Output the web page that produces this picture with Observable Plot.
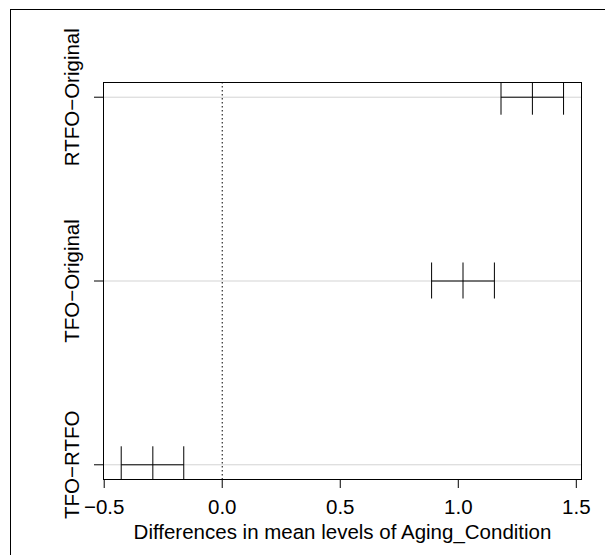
<!DOCTYPE html>
<html>
<head>
<meta charset="utf-8">
<script src="https://cdn.jsdelivr.net/npm/d3@7"></script>
<script src="https://cdn.jsdelivr.net/npm/@observablehq/plot@0.6"></script>
<style>
  html, body { margin: 0; padding: 0; background: #fff; overflow: hidden; width: 605px; height: 555px; }
  #outer { position: absolute; left: 10px; top: 9px; width: 700px; height: 700px; border: 1.5px solid #000; box-sizing: border-box; }
  #chart { position: absolute; left: 0; top: 0; }
</style>
</head>
<body>
<div id="outer"></div>
<div id="chart"></div>
<script>
// TukeyHSD comparisons (bottom to top)
const comparisons = ["TFO\u2212RTFO", "TFO\u2212Original", "RTFO\u2212Original"];
const diffs = [-0.294, 1.020, 1.314];
const lwr = [-0.428, 0.887, 1.181];
const upr = [-0.163, 1.153, 1.446];
const xTicks = [-0.5, 0.0, 0.5, 1.0, 1.5];
const xLabel = "Differences in mean levels of Aging_Condition";

const rows = comparisons.map((c, i) => ({name: c, pos: i + 1, diff: diffs[i], lwr: lwr[i], upr: upr[i]}));
const pts = rows.flatMap(r => [r.lwr, r.diff, r.upr].map(v => ({x: v, pos: r.pos})));
const half = 0.098;
const fs = 20.5;

const chart = Plot.plot({
  width: 605,
  height: 555,
  marginLeft: 103,
  marginRight: 24,
  marginTop: 82,
  marginBottom: 76,
  style: {fontFamily: "'Liberation Sans', Arial, sans-serif", fontSize: fs + "px", background: "transparent", color: "#000"},
  x: {domain: [-0.503, 1.522], label: null},
  y: {domain: [0.92, 3.08], label: null},
  marks: [
    Plot.ruleY(rows, {y: "pos", stroke: "#d3d3d3", strokeWidth: 1}),
    Plot.ruleX([0], {stroke: "#000", strokeWidth: 1, strokeDasharray: "1.5,2.5"}),
    Plot.link(rows, {x1: "lwr", x2: "upr", y1: "pos", y2: "pos", stroke: "#000", strokeWidth: 1}),
    Plot.ruleX(pts, {x: "x", y1: d => d.pos - half, y2: d => d.pos + half, stroke: "#000", strokeWidth: 1, clip: true}),
    Plot.frame({stroke: "#000", strokeWidth: 1}),
    Plot.axisX({ticks: xTicks, tickFormat: d3.format(".1f"), tickSize: 9, tickPadding: 11, fontSize: fs, label: null}),
    Plot.axisY({ticks: rows.map(r => r.pos), tickSize: 9, tickFormat: () => "", label: null}),
    Plot.text(rows, {y: "pos", text: "name", frameAnchor: "left", dx: -31, rotate: -90, textAnchor: "middle", lineAnchor: "middle", fontSize: fs, fill: "#000"}),
    Plot.text([xLabel], {text: d => d, frameAnchor: "bottom", dy: 53, lineAnchor: "middle", textAnchor: "middle", fontSize: fs, fill: "#000"})
  ]
});
document.getElementById("chart").appendChild(chart);
</script>
</body>
</html>
